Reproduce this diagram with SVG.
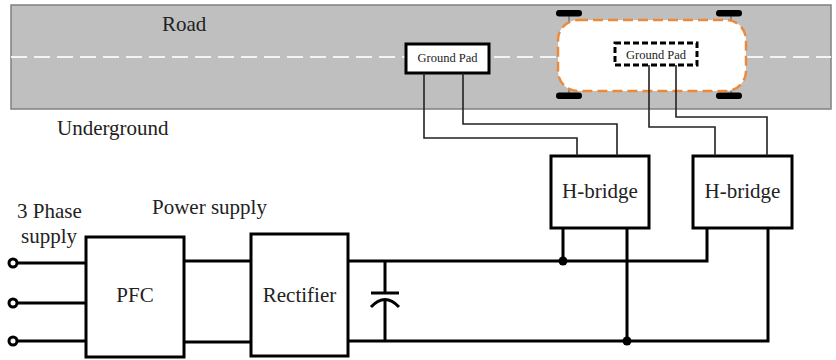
<svg xmlns="http://www.w3.org/2000/svg" width="836" height="360" viewBox="0 0 836 360" font-family="'Liberation Serif', 'Times New Roman', Times, serif">
  <style>
    text { font-family: "Liberation Serif", "Times New Roman", Times, serif; fill: #222; }
    .lbl { font-size: 21px; }
    .small { font-size: 12.5px; text-anchor: middle; }
    .mid { text-anchor: middle; }
    .box { fill: #fff; stroke: #000; stroke-width: 3; }
    .wire { fill: none; stroke: #000; stroke-width: 3; }
    .thin { fill: none; stroke: #222; stroke-width: 1.6; }
    .dot { fill: #000; }
    .wheel { fill: #000; }
  </style>

  <!-- road surface -->
  <g id="road">
    <rect x="11" y="5" width="820" height="104" fill="#bfbfbf" stroke="#808080" stroke-width="1.5"/>
    <line x1="11" y1="57" x2="831" y2="57" stroke="#f4f4f4" stroke-width="2" stroke-dasharray="16 7"/>
    <text class="lbl" x="162" y="31">Road</text>
  </g>

  <text id="underground" class="lbl" x="57" y="135">Underground</text>

  <!-- vehicle with on-board pad -->
  <g id="car">
    <line x1="569" y1="16" x2="569" y2="30" stroke="#555" stroke-width="1"/>
    <line x1="731" y1="16" x2="731" y2="30" stroke="#555" stroke-width="1"/>
    <line x1="569" y1="82" x2="569" y2="93" stroke="#555" stroke-width="1"/>
    <line x1="731" y1="82" x2="731" y2="93" stroke="#555" stroke-width="1"/>
    <rect class="wheel" x="556" y="10" width="26" height="6.5" rx="3.2"/>
    <rect class="wheel" x="716" y="10" width="26" height="6.5" rx="3.2"/>
    <rect class="wheel" x="556" y="92.5" width="26" height="6.5" rx="3.2"/>
    <rect class="wheel" x="716" y="92.5" width="26" height="6.5" rx="3.2"/>
    <rect x="558" y="20" width="188" height="71" rx="20" fill="#fff" stroke="#ed8a3a" stroke-width="2.5" stroke-dasharray="10 5"/>
  </g>

  <g id="pad2">
    <rect x="615" y="43" width="82" height="22" fill="#fff" stroke="#000" stroke-width="3" stroke-dasharray="6 3"/>
    <text class="small" x="656" y="59">Ground Pad</text>
  </g>

  <g id="pad1">
    <rect class="box" x="406" y="44" width="83" height="29"/>
    <text class="small" x="447.5" y="62">Ground Pad</text>
  </g>

  <!-- power conversion blocks -->
  <g id="pfc">
    <rect class="box" x="86" y="237" width="98" height="120"/>
    <text class="lbl mid" x="135" y="302">PFC</text>
  </g>

  <g id="rectifier">
    <rect class="box" x="251" y="234" width="97" height="122"/>
    <text class="lbl mid" x="299.5" y="302">Rectifier</text>
  </g>

  <g id="hbridge1">
    <rect class="box" x="551" y="156" width="98" height="72"/>
    <text class="lbl mid" x="600" y="198">H-bridge</text>
  </g>

  <g id="hbridge2">
    <rect class="box" x="693" y="156" width="99" height="72"/>
    <text class="lbl mid" x="742.5" y="198">H-bridge</text>
  </g>

  <g id="supply-labels">
    <text class="lbl" x="17" y="218">3 Phase</text>
    <text class="lbl" x="21" y="243">supply</text>
    <text class="lbl" x="152" y="214">Power supply</text>
  </g>

  <!-- connectors -->
  <g id="connectors">
    <!-- three-phase inputs -->
    <line class="wire" x1="17" y1="263" x2="86" y2="263"/>
    <line class="wire" x1="17" y1="303" x2="86" y2="303"/>
    <line class="wire" x1="17" y1="341" x2="86" y2="341"/>
    <circle cx="13" cy="263" r="4" fill="#fff" stroke="#000" stroke-width="3"/>
    <circle cx="13" cy="303" r="4" fill="#fff" stroke="#000" stroke-width="3"/>
    <circle cx="13" cy="341" r="4" fill="#fff" stroke="#000" stroke-width="3"/>

    <!-- PFC to rectifier -->
    <line class="wire" x1="184" y1="261" x2="251" y2="261"/>
    <line class="wire" x1="184" y1="342" x2="251" y2="342"/>

    <!-- DC bus -->
    <polyline class="wire" points="348,261 707,261 707,228"/>
    <polyline class="wire" points="348,341 768,341 768,228"/>
    <line class="wire" x1="563" y1="228" x2="563" y2="261"/>
    <line class="wire" x1="627" y1="228" x2="627" y2="341"/>
    <circle class="dot" cx="563" cy="261" r="4.5"/>
    <circle class="dot" cx="627" cy="341" r="4.5"/>

    <!-- DC link capacitor -->
    <g id="capacitor">
      <line class="wire" x1="385" y1="261" x2="385" y2="293"/>
      <line class="wire" x1="371" y1="293" x2="399" y2="293"/>
      <path class="wire" d="M371,307 Q385,292 399,307"/>
      <line class="wire" x1="385" y1="299.5" x2="385" y2="341"/>
    </g>

    <!-- pad feeders -->
    <polyline class="thin" points="424,73 424,138 577,138 577,156"/>
    <polyline class="thin" points="463,73 463,124 617,124 617,156"/>
    <polyline class="thin" points="649,65 649,127 715,127 715,156"/>
    <polyline class="thin" points="676,65 676,117 767,117 767,156"/>
  </g>
</svg>
